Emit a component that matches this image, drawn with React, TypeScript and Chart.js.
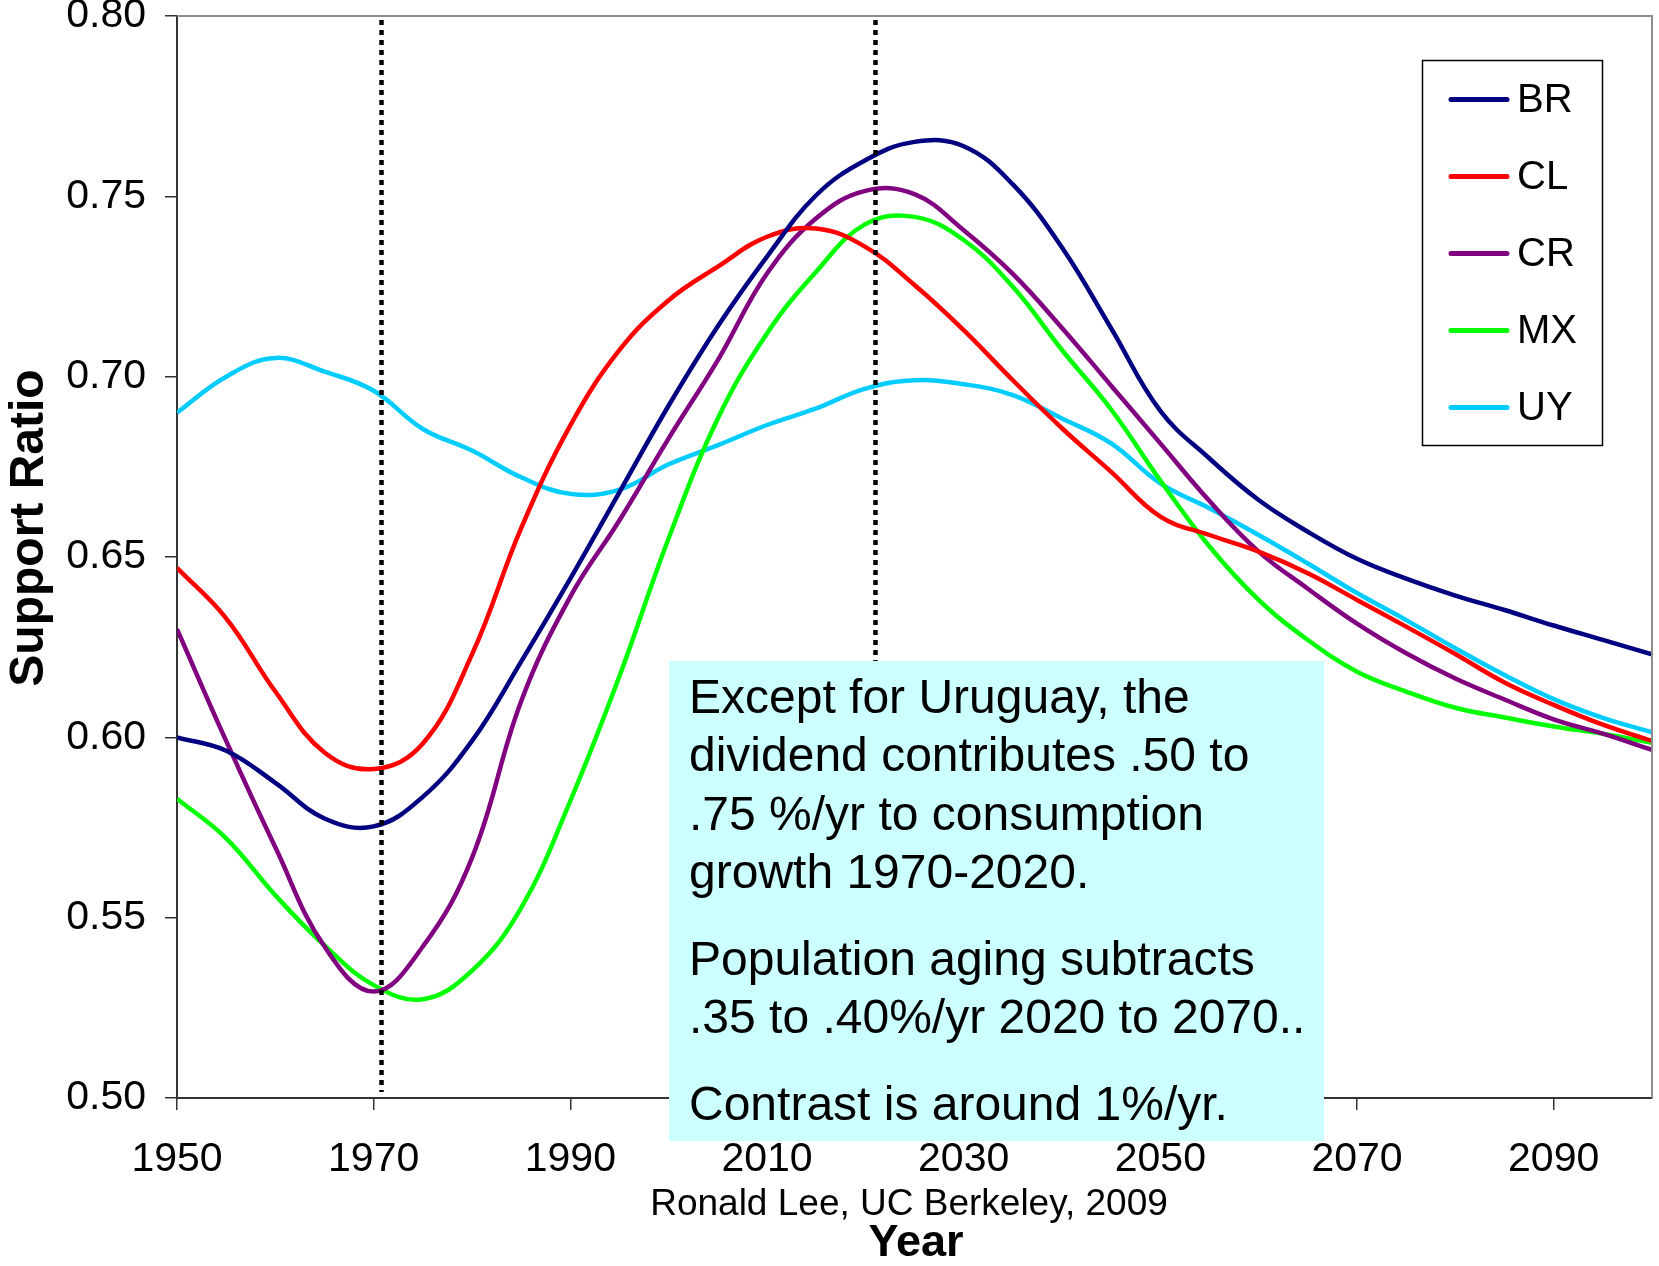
import React, { useEffect, useRef } from "react";
import { Chart, registerables } from "chart.js";

Chart.register(...registerables);

// ---- Data ----
const YEARS = [
  1950, 1955, 1960, 1965, 1970, 1975, 1980, 1985, 1990, 1995, 2000,
  2005, 2010, 2015, 2020, 2025, 2030, 2035, 2040, 2045, 2050,
  2055, 2060, 2065, 2070, 2075, 2080, 2085, 2090, 2095, 2100,
];

const BR = [
  0.600, 0.5963, 0.5874, 0.5775, 0.5753, 0.5835, 0.599, 0.621, 0.644, 0.668, 0.692,
  0.714, 0.7333, 0.7503, 0.760, 0.7651, 0.7639, 0.7533, 0.7358, 0.7134, 0.6905,
  0.6773, 0.6658, 0.657, 0.6495, 0.644, 0.6393, 0.6353, 0.631, 0.627, 0.623,
];

const CL = [
  0.647, 0.633, 0.6127, 0.5958, 0.5912, 0.5983, 0.623, 0.658, 0.6865, 0.7074, 0.7212,
  0.7305, 0.7388, 0.7411, 0.736, 0.7254, 0.7129, 0.699, 0.6857, 0.6736, 0.6612,
  0.6561, 0.6515, 0.6455, 0.6381, 0.6307, 0.6231, 0.6152, 0.609, 0.6035, 0.599,
];

const CR = [
  0.630, 0.599, 0.5695, 0.542, 0.5295, 0.542, 0.5666, 0.610, 0.639, 0.6602, 0.6829,
  0.7046, 0.7286, 0.7439, 0.7515, 0.7506, 0.7406, 0.7285, 0.7135, 0.6975, 0.6815,
  0.6655, 0.6515, 0.6412, 0.6315, 0.6233, 0.6163, 0.6105, 0.605, 0.601, 0.5965,
];

const MX = [
  0.583, 0.572, 0.5562, 0.5423, 0.5313, 0.5274, 0.5353, 0.5527, 0.5824, 0.617, 0.6552,
  0.6884, 0.712, 0.7291, 0.7423, 0.7443, 0.7379, 0.7249, 0.7074, 0.6909, 0.6712,
  0.6529, 0.6381, 0.627, 0.6182, 0.6127, 0.6082, 0.6055, 0.603, 0.601, 0.5985,
];

const UY = [
  0.690, 0.700, 0.7052, 0.7014, 0.6961, 0.6855, 0.6795, 0.6721, 0.6675, 0.6687, 0.6757,
  0.681, 0.6866, 0.6912, 0.6967, 0.699, 0.6979, 0.6949, 0.6884, 0.6815, 0.6704,
  0.6635, 0.6561, 0.6482, 0.640, 0.6325, 0.6247, 0.6173, 0.6106, 0.6054, 0.6014,
];

const SERIES_LABELS = ["BR", "CL", "CR", "MX", "UY"];
const SERIES_VALUES = [BR, CL, CR, MX, UY];
const SERIES_COLORS = ["#000080", "#FF0000", "#800080", "#00FF00", "#00CCFF"];

const X_TICKS = [1950, 1970, 1990, 2010, 2030, 2050, 2070, 2090];
const Y_TICKS = [0.5, 0.55, 0.6, 0.65, 0.7, 0.75, 0.8];
const MARKER_YEARS = [1970.75, 2021];

const NOTE_PARAGRAPHS = [
  [
    "Except for Uruguay, the",
    "dividend contributes .50 to",
    ".75 %/yr to consumption",
    "growth 1970-2020.",
  ],
  ["Population aging subtracts", ".35 to .40%/yr 2020 to 2070.."],
  ["Contrast is around 1%/yr."],
];

const Y_TITLE = "Support Ratio";
const X_TITLE = "Year";
const CREDIT = "Ronald Lee, UC Berkeley, 2009";

const FONT = "'Liberation Sans', Arial, sans-serif";

const overlayPlugin = {
  id: "overlay",
  afterDatasetsDraw(chart: any) {
    const { ctx, chartArea, scales } = chart;
    const x = scales.x;
    ctx.save();
    ctx.strokeStyle = "#000";
    ctx.lineWidth = 4.5;
    ctx.setLineDash([5, 5]);
    for (const yr of MARKER_YEARS) {
      const px = Math.round(x.getPixelForValue(yr)) + 0.5;
      ctx.beginPath();
      ctx.moveTo(px, chartArea.top + 4);
      ctx.lineTo(px, chartArea.bottom - 6);
      ctx.stroke();
    }
    ctx.restore();
  },
  afterDraw(chart: any) {
    const { ctx, chartArea } = chart;
    ctx.save();

    // top & right frame
    ctx.strokeStyle = "#8c8c8c";
    ctx.lineWidth = 2;
    ctx.beginPath();
    ctx.moveTo(chartArea.left, chartArea.top);
    ctx.lineTo(chartArea.right, chartArea.top);
    ctx.lineTo(chartArea.right, chartArea.bottom);
    ctx.stroke();

    // note box
    ctx.fillStyle = "#CCFFFF";
    ctx.fillRect(669, 661, 655, 480);
    ctx.fillStyle = "#000";
    ctx.font = `48px ${FONT}`;
    ctx.textAlign = "left";
    ctx.textBaseline = "middle";
    let ty = 700;
    NOTE_PARAGRAPHS.forEach((para) => {
      para.forEach((line) => {
        ctx.fillText(line, 689, ty);
        ty += 58.2;
      });
      ty += 28.6;
    });

    // legend
    ctx.fillStyle = "#fff";
    ctx.fillRect(1422, 60, 180, 385);
    ctx.strokeStyle = "#000";
    ctx.lineWidth = 1.5;
    ctx.strokeRect(1422.5, 60.5, 180, 385);
    ctx.font = `40px ${FONT}`;
    ctx.textBaseline = "middle";
    chart.data.datasets.forEach((ds: any, i: number) => {
      const cy = 99.5 + i * 77;
      ctx.strokeStyle = ds.borderColor;
      ctx.lineWidth = 5;
      ctx.lineCap = "round";
      ctx.beginPath();
      ctx.moveTo(1451, cy);
      ctx.lineTo(1507, cy);
      ctx.stroke();
      ctx.fillStyle = "#000";
      ctx.fillText(ds.label, 1517, cy + 1);
    });

    // axis titles
    ctx.fillStyle = "#000";
    ctx.textAlign = "center";
    ctx.font = `bold 45px ${FONT}`;
    ctx.fillText(X_TITLE, 916, 1244);
    ctx.font = `37px ${FONT}`;
    ctx.fillText(CREDIT, 909, 1205);

    ctx.translate(30, 528);
    ctx.rotate(-Math.PI / 2);
    ctx.font = `bold 48px ${FONT}`;
    ctx.fillText(Y_TITLE, 0, 0);

    ctx.restore();
  },
};

export default function App() {
  const canvasRef = useRef<HTMLCanvasElement | null>(null);

  useEffect(() => {
    const canvas = canvasRef.current;
    if (!canvas) return;
    const chart = new Chart(canvas, {
      type: "line",
      data: {
        datasets: SERIES_LABELS.map((label, i) => ({
          label,
          data: YEARS.map((yr, j) => ({ x: yr, y: SERIES_VALUES[i][j] })),
          borderColor: SERIES_COLORS[i],
          backgroundColor: SERIES_COLORS[i],
          borderWidth: 4.5,
          pointRadius: 0,
          tension: 0.4,
          fill: false,
        })),
      },
      options: {
        responsive: false,
        animation: false,
        devicePixelRatio: 1,
        layout: { padding: { top: 16, right: 7, left: 0, bottom: 0 } },
        plugins: {
          legend: { display: false },
          tooltip: { enabled: false },
          title: { display: false },
        },
        scales: {
          x: {
            type: "linear",
            min: 1950,
            max: 2100,
            afterBuildTicks: (scale: any) => {
              scale.ticks = X_TICKS.map((v) => ({ value: v }));
            },
            afterFit: (scale: any) => {
              scale.height = 168;
              scale.paddingLeft = 0;
              scale.paddingRight = 0;
            },
            ticks: {
              autoSkip: false,
              maxRotation: 0,
              padding: 25,
              color: "#000",
              font: { family: FONT, size: 41 },
              callback: (v: any) => String(v),
            },
            grid: {
              drawOnChartArea: false,
              drawTicks: true,
              tickLength: 12,
              color: "#333",
              lineWidth: 1.5,
            },
            border: { display: true, color: "#333", width: 2 },
          },
          y: {
            type: "linear",
            min: 0.5,
            max: 0.8,
            afterBuildTicks: (scale: any) => {
              scale.ticks = Y_TICKS.map((v) => ({ value: v }));
            },
            afterFit: (scale: any) => {
              scale.width = 177;
              scale.paddingTop = 0;
              scale.paddingBottom = 0;
            },
            ticks: {
              padding: 19,
              color: "#000",
              font: { family: FONT, size: 41 },
              callback: (v: any) => Number(v).toFixed(2),
            },
            grid: {
              drawOnChartArea: false,
              drawTicks: true,
              tickLength: 12,
              color: "#333",
              lineWidth: 1.5,
            },
            border: { display: true, color: "#333", width: 2 },
          },
        },
      },
      plugins: [overlayPlugin],
    });
    return () => chart.destroy();
  }, []);

  return (
    <div
      style={{
        position: "absolute",
        left: 0,
        top: 0,
        width: 1659,
        height: 1266,
        background: "#fff",
      }}
    >
      <canvas ref={canvasRef} width={1659} height={1266} style={{ display: "block" }} />
    </div>
  );
}
